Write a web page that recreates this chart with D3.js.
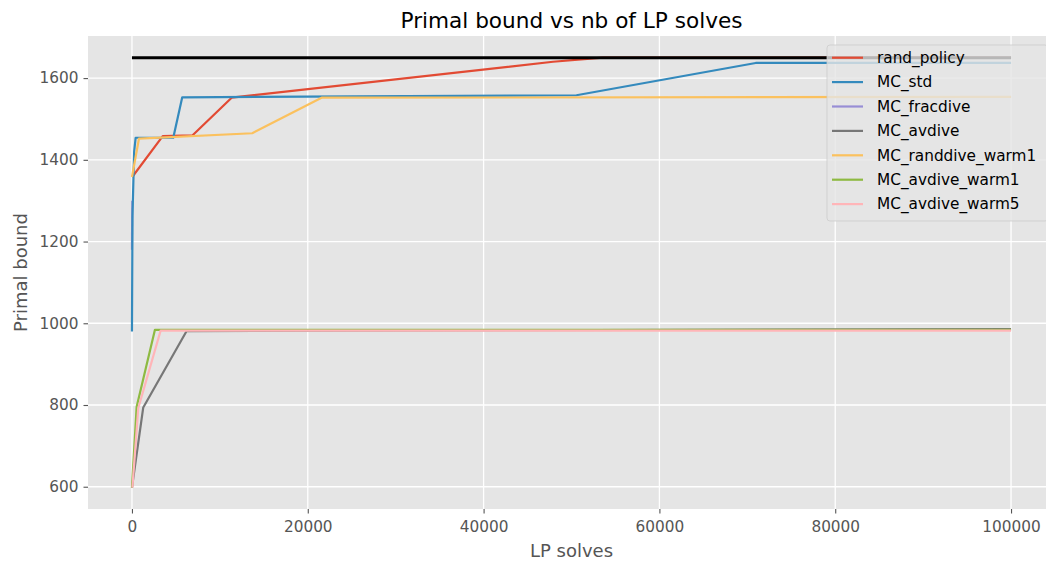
<!DOCTYPE html>
<html lang="en">
<head>
  <meta charset="UTF-8">
  <title>Primal bound vs nb of LP solves</title>
  <style>
    body { margin: 0; background: #fff; }
    svg { display: block; font-family: "DejaVu Sans", sans-serif; }
  </style>
</head>
<body>
  <div id="chart"></div>
  <script src="https://d3js.org/d3.v7.min.js"></script>
  <script>
    // data: [LP solves, primal bound]
    var seriesNames = ['rand_policy', 'MC_std', 'MC_fracdive', 'MC_avdive',
      'MC_randdive_warm1', 'MC_avdive_warm1', 'MC_avdive_warm5']
    var seriesColors = ['#E24A33', '#348ABD', '#988ED5', '#777777', '#FBC15E', '#8EBA42', '#FFB5B8']
    var randPolicy = [[30, 1358], [3500, 1458], [6900, 1460], [11340, 1552], [47900, 1640], [53550, 1650], [100000, 1650]]
    var mcStd = [[0, 980], [60, 1263], [250, 1420], [420, 1454], [4700, 1454], [5720, 1553],
      [50560, 1558], [70950, 1637], [100000, 1637]]
    var mcFracdive = [[0, 1180], [40, 1300]]
    var mcAvdive = [[0, 598], [1285, 794], [6220, 981], [100000, 986]]
    var mcRanddiveWarm1 = [[0, 1358], [800, 1452], [13680, 1465], [21570, 1552], [100000, 1554]]
    var mcAvdiveWarm1 = [[0, 598], [535, 796], [2615, 984], [3100, 984], [100000, 984]]
    var mcAvdiveWarm5 = [[50, 598], [715, 792], [3260, 982], [100000, 982]]
    var optimal = [[0, 1650], [100000, 1650]]
    var allSeries = [randPolicy, mcStd, mcFracdive, mcAvdive, mcRanddiveWarm1, mcAvdiveWarm1, mcAvdiveWarm5]
    var drawOrder = [2, 0, 1, 3, 4, 5, 6]   // fracdive sits under the others
    var xTicks = [0, 20000, 40000, 60000, 80000, 100000]
    var yTicks = [600, 800, 1000, 1200, 1400, 1600]

    var width = 1046
    var height = 563
    var plotLeft = 88, plotRight = 1055, plotTop = 36, plotBottom = 509

    var x = d3.scaleLinear().domain([-5000, 105000]).range([plotLeft, plotRight])
    var y = d3.scaleLinear().domain([545.5, 1703]).range([plotBottom, plotTop])

    var svg = d3.select('#chart').append('svg')
      .attr('width', width)
      .attr('height', height)
    svg.append('rect').attr('width', width).attr('height', height).attr('fill', '#fff')

    svg.append('rect')
      .attr('x', plotLeft).attr('y', plotTop)
      .attr('width', plotRight - plotLeft).attr('height', plotBottom - plotTop)
      .attr('fill', '#E5E5E5')

    // grid
    svg.append('g').selectAll('line').data(xTicks).enter().append('line')
      .attr('x1', function(d) { return x(d) }).attr('x2', function(d) { return x(d) })
      .attr('y1', plotTop).attr('y2', plotBottom)
      .attr('stroke', '#fff').attr('stroke-width', 1.3)
    svg.append('g').selectAll('line').data(yTicks).enter().append('line')
      .attr('y1', function(d) { return y(d) }).attr('y2', function(d) { return y(d) })
      .attr('x1', plotLeft).attr('x2', plotRight)
      .attr('stroke', '#fff').attr('stroke-width', 1.3)

    // axes
    var xAxis = svg.append('g')
      .attr('transform', 'translate(0,' + plotBottom + ')')
      .call(d3.axisBottom(x).tickValues(xTicks).tickFormat(d3.format('d')).tickSize(4.5).tickPadding(8))
    var yAxis = svg.append('g')
      .attr('transform', 'translate(' + plotLeft + ',0)')
      .call(d3.axisLeft(y).tickValues(yTicks).tickFormat(d3.format('d')).tickSize(4.5).tickPadding(5))
    ;[xAxis, yAxis].forEach(function(a) {
      a.select('.domain').remove()
      a.selectAll('.tick line').attr('stroke', '#555555').attr('stroke-width', 1.1)
      a.selectAll('.tick text').attr('fill', '#555555')
        .attr('font-size', 15.3).attr('font-family', '"DejaVu Sans", sans-serif')
    })

    // lines
    var line = d3.line().x(function(d) { return x(d[0]) }).y(function(d) { return y(d[1]) })
    svg.append('g').selectAll('path').data(drawOrder).enter().append('path')
      .attr('d', function(i) { return line(allSeries[i]) })
      .attr('fill', 'none')
      .attr('stroke', function(i) { return seriesColors[i] })
      .attr('stroke-width', 2.2)
      .attr('stroke-linejoin', 'round')
    svg.append('path').datum(optimal)
      .attr('d', line)
      .attr('fill', 'none')
      .attr('stroke', '#000')
      .attr('stroke-width', 3)

    // title and labels
    svg.append('text')
      .attr('x', (plotLeft + plotRight) / 2).attr('y', 28)
      .attr('text-anchor', 'middle').attr('font-size', 21.6).attr('fill', '#000')
      .text('Primal bound vs nb of LP solves')
    svg.append('text')
      .attr('x', (plotLeft + plotRight) / 2).attr('y', 557)
      .attr('text-anchor', 'middle').attr('font-size', 18).attr('fill', '#555555')
      .text('LP solves')
    svg.append('text')
      .attr('transform', 'translate(27,' + (plotTop + plotBottom) / 2 + ') rotate(-90)')
      .attr('text-anchor', 'middle').attr('font-size', 18).attr('fill', '#555555')
      .text('Primal bound')

    // legend
    var legend = svg.append('g').attr('transform', 'translate(827,45)')
    legend.append('rect')
      .attr('width', 221).attr('height', 176).attr('rx', 3)
      .attr('fill', '#E5E5E5').attr('fill-opacity', 0.8)
      .attr('stroke', '#CCCCCC').attr('stroke-opacity', 0.8)
    var rows = legend.selectAll('g.row').data(seriesNames).enter().append('g')
      .attr('transform', function(d, i) { return 'translate(0,' + (12.7 + i * 24.4) + ')' })
    rows.append('line')
      .attr('x1', 5).attr('x2', 36)
      .attr('stroke', function(d, i) { return seriesColors[i] })
      .attr('stroke-width', 2.2)
    rows.append('text')
      .attr('x', 50).attr('dy', '0.35em')
      .attr('font-size', 15.3).attr('fill', '#000')
      .text(function(d) { return d })
  </script>
</body>
</html>
